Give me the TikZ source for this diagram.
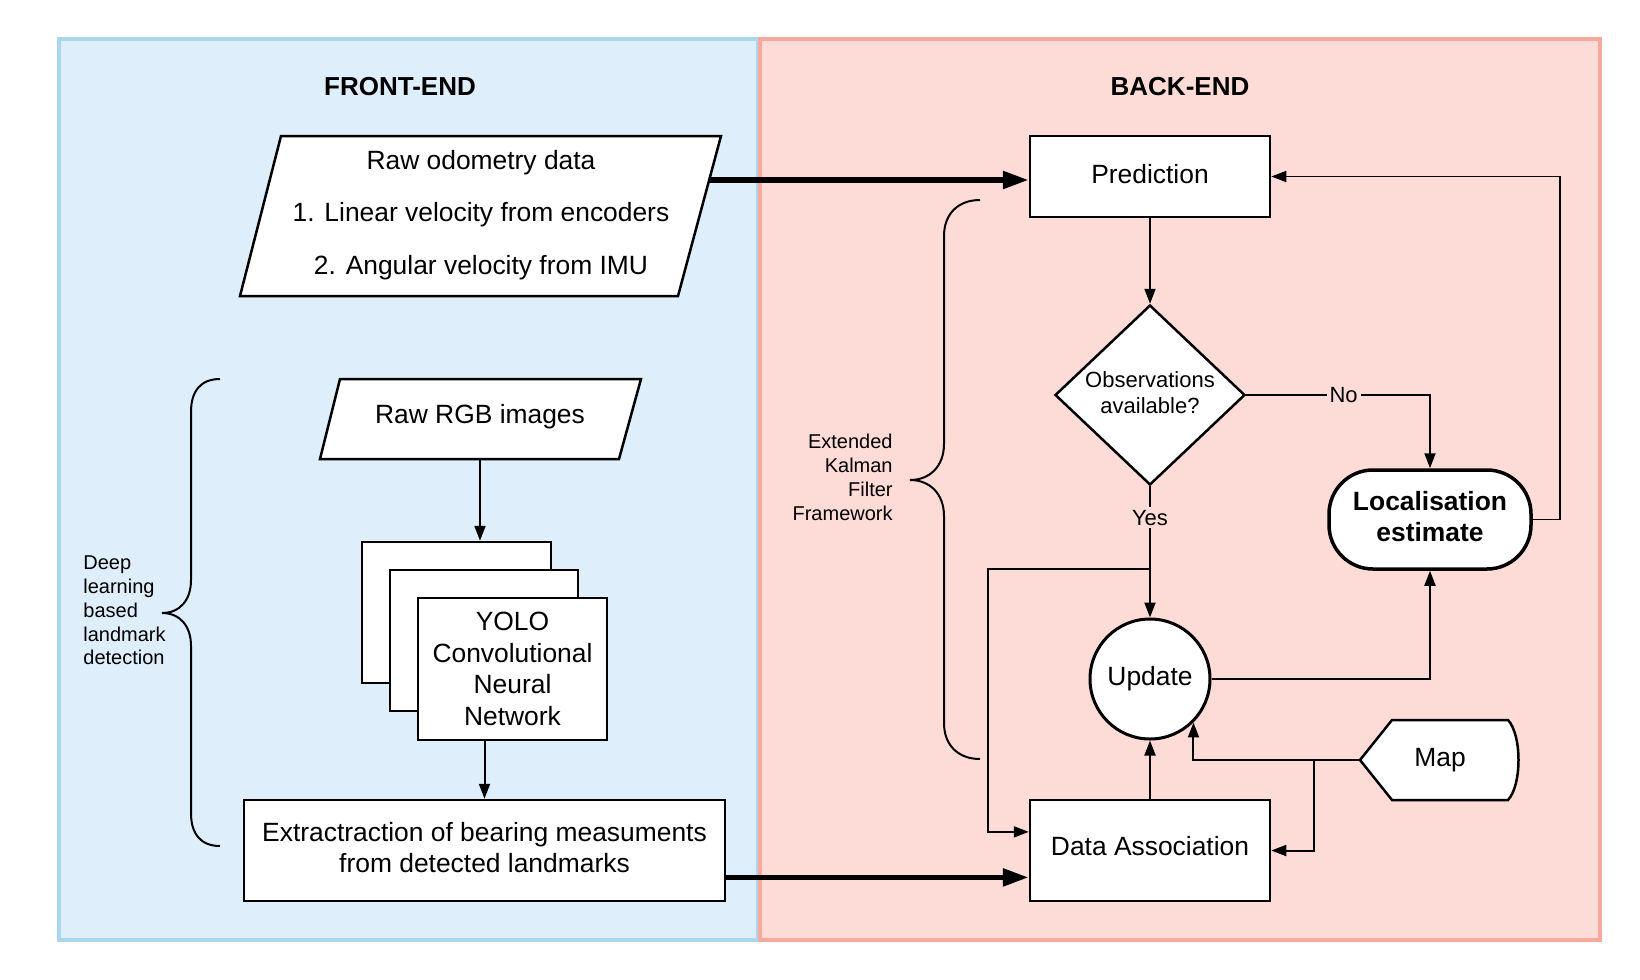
\documentclass[tikz,border=0pt]{standalone}
\usepackage{fontspec}
\setmainfont{Liberation Sans}
\usetikzlibrary{arrows.meta,shapes.geometric,calc}
\definecolor{bluefill}{RGB}{222,238,250}
\definecolor{blueedge}{RGB}{170,214,240}
\definecolor{pinkfill}{RGB}{253,220,216}
\definecolor{pinkedge}{RGB}{248,168,156}
\tikzset{
  big/.style={font=\fontsize{13.2}{15.8}\selectfont},
  small/.style={font=\fontsize{10}{11.9}\selectfont},
  header/.style={font=\bfseries\fontsize{13}{15}\selectfont},
  procbox/.style={draw, line width=1.25pt, fill=white, inner sep=0pt, align=center},
  dataline/.style={draw, line width=1.25pt, fill=white, line join=miter},
  conn/.style={line width=1pt, -{Triangle[length=7.5pt,width=5.5pt]}},
  thinconn/.style={line width=0.7pt, -{Triangle[length=7.5pt,width=5.5pt]}},
  thickconn/.style={line width=2.75pt, -{Triangle[length=13pt,width=8.5pt]}},
  brace/.style={line width=1pt},
  lbl/.style={fill=pinkfill, inner sep=1.5pt, font=\fontsize{11}{13}\selectfont}
}
\begin{document}
\begin{tikzpicture}[x=0.5pt,y=-0.5pt]
\useasboundingbox (0,0) rectangle (1640,980);
\fill[white] (0,0) rectangle (1640,980);
% panels
\draw[line width=1.75pt, blueedge, fill=bluefill] (59,39) rectangle (758,940);
\draw[line width=1.75pt, pinkedge, fill=pinkfill] (760,39) rectangle (1600,940);
\node[header] (fe) at (400,87) {FRONT-END};
\node[header] (be) at (1180,87) {BACK-END};

% front-end: data parallelograms
\coordinate (odoTL) at (281,136);
\coordinate (odoTR) at (721,136);
\coordinate (odoBR) at (678,296);
\coordinate (odoBL) at (240,296);
\path[dataline] (odoTL) -- (odoTR) -- (odoBR) -- (odoBL) -- cycle;
\node[align=center, inner sep=0pt, font=\fontsize{13.2}{26.2}\selectfont] (odo) at (481,215)
  {Raw odometry data\\1. Linear velocity from encoders\\2. Angular velocity from IMU};

\coordinate (rgbTL) at (340,379);
\coordinate (rgbTR) at (641,379);
\coordinate (rgbBR) at (619,459);
\coordinate (rgbBL) at (320,459);
\path[dataline] (rgbTL) -- (rgbTR) -- (rgbBR) -- (rgbBL) -- cycle;
\node[big, inner sep=0pt] (rgb) at (480,417) {Raw RGB images};
\coordinate (rgbout) at (480,459);

\node[procbox, minimum width=94.5pt, minimum height=70.5pt] (cnn1) at (456.5,612.5) {};
\node[procbox, minimum width=94pt, minimum height=70.5pt] (cnn2) at (484,640.5) {};
\node[procbox, minimum width=94.5pt, minimum height=71pt, font=\fontsize{13.2}{15.85}\selectfont] (cnn3) at (512.5,669)
  {YOLO\\Convolutional\\Neural\\Network};
\node[procbox, minimum width=240.5pt, minimum height=50.5pt, font=\fontsize{13.2}{15.5}\selectfont] (ext) at (484.5,850.5)
  {Extractraction of bearing measuments\\from detected landmarks\rule[-3pt]{0pt}{0pt}};
\node[small, align=left, anchor=west, inner sep=0pt] (dl) at (83,610.5)
  {Deep\\learning\\based\\landmark\\detection};

% back-end nodes
\node[procbox, minimum width=120pt, minimum height=40.5pt, big] (pred) at (1150,176.5) {Prediction\rule[-3pt]{0pt}{0pt}};
\node[diamond, draw, line width=1.25pt, fill=white, inner sep=0pt, minimum width=95pt, minimum height=90pt,
      align=center, font=\fontsize{11}{13}\selectfont] (obs) at (1150,395) {Observations\\available?\rule[-2pt]{0pt}{0pt}};
\node[circle, draw, line width=1.5pt, fill=white, inner sep=0pt, minimum size=60pt, big] (upd) at (1150,679) {Update};
\node[procbox, minimum width=120pt, minimum height=50.5pt, big] (da) at (1150,850.5) {Data Association\rule[-4.5pt]{0pt}{0pt}};
\node[draw, line width=1.75pt, fill=white, rounded corners=22pt, minimum width=101pt, minimum height=49.5pt,
      inner sep=0pt, align=center, font=\bfseries\fontsize{13.2}{15.5}\selectfont] (loc) at (1430,519.5)
  {Localisation\\estimate\rule[-3pt]{0pt}{0pt}};
\draw[line width=1.25pt, fill=white] (1360,760) -- (1392,720) -- (1508,720)
  .. controls (1522,735) and (1522,785) .. (1508,800) -- (1392,800) -- cycle;
\node[big] (map) at (1440,760) {Map};
\coordinate (mapl) at (1360,760);
\node[small, align=right, anchor=east, inner sep=0pt] (ekf) at (893,477.5)
  {Extended\\Kalman\\Filter\\Framework};

% braces
\draw[brace] (980,200) .. controls (958,200) and (944,214) .. (944,236) -- (944,444)
  .. controls (944,466) and (930,480) .. (910,480)
  .. controls (930,480) and (944,494) .. (944,516) -- (944,723)
  .. controls (944,745) and (958,759) .. (980,759);
\draw[brace] (220,379) .. controls (200,379) and (191,392) .. (191,412) -- (191,580)
  .. controls (191,600) and (180,613) .. (162,613)
  .. controls (180,613) and (191,626) .. (191,646) -- (191,813)
  .. controls (191,833) and (200,846) .. (220,846);

% connectors
\coordinate (oa) at ($(odoTR)!0.275!(odoBR)$);
\draw[thickconn] (oa) -- (oa -| pred.west);
\coordinate (ea) at ($(ext.south east)!0.24!(ext.north east)$);
\draw[thickconn] (ea) -- (ea -| da.west);
\draw[conn] (rgbout) -- (rgbout |- cnn1.north);
\draw[conn] (ext.north |- cnn3.south) -- (ext.north);
\draw[conn] (pred.south) -- (obs.north);
\draw[conn] (obs.east) -- node[lbl, pos=0.53] {No} (obs.east -| loc.north) -- (loc.north);
\draw[conn] (obs.south) -- node[lbl, pos=0.24] {Yes} (upd.north);
\coordinate (br) at ($(obs.south)!0.63!(upd.north)$);
\coordinate (bl) at (988,570);
\coordinate (dain) at ($(da.north west)!0.32!(da.south west)$);
\draw[conn] (br) -- (br -| bl) |- (dain);
\draw[conn] (da.north) -- (upd.south);
\draw[conn] (upd.east) -| (loc.south);
\coordinate (fb) at (1560,177);
\draw[thinconn] (loc.east) -- (loc.east -| fb) -- (fb |- pred.east) -- (pred.east);
\coordinate (mb) at (1314,760);
\draw[conn] (mapl) -| (upd.-45);
\draw[conn] (mb) |- (da.east);
\end{tikzpicture}
\end{document}
